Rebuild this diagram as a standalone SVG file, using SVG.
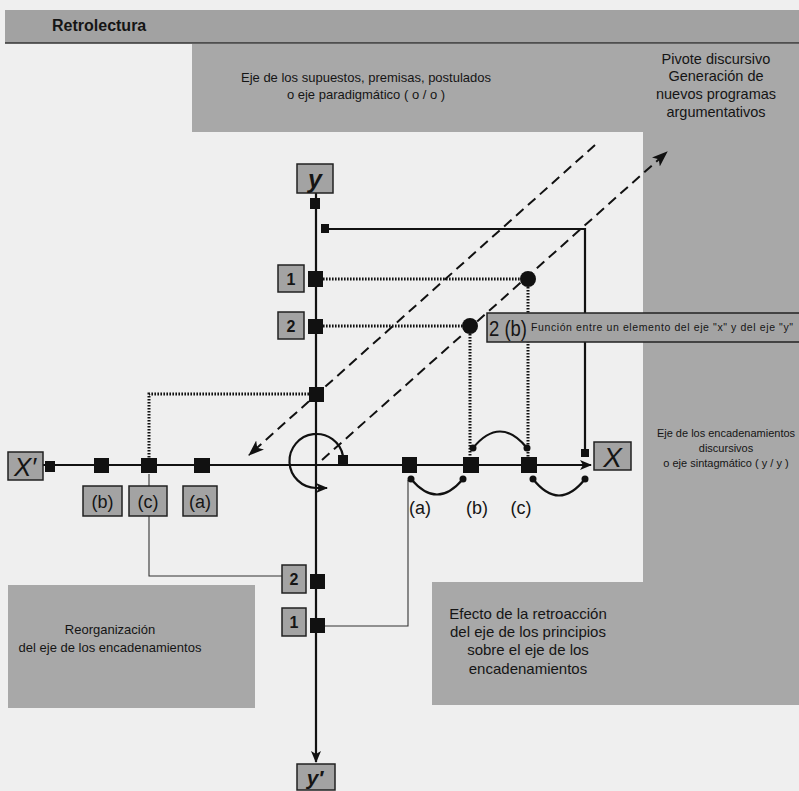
<svg xmlns="http://www.w3.org/2000/svg" width="799" height="791" viewBox="0 0 799 791">
<defs>
<style>
.bg{fill:#a8a8a8}
.lbl{fill:#a3a3a3;stroke:#222;stroke-width:1.5}
.sq{fill:#111}
.t{font-family:"Liberation Sans",Arial,sans-serif;fill:#151515}
.c{text-anchor:middle}
.ax{stroke:#111;stroke-width:2.2;fill:none}
.thin{stroke:#333;stroke-width:1.1;fill:none}
.dot{stroke:#111;stroke-width:3;stroke-dasharray:1.6 1.4;fill:none}
.dash{stroke:#111;stroke-width:2;stroke-dasharray:10 6;fill:none}
</style>
<marker id="ah" viewBox="0 0 12 10" refX="11" refY="5" markerWidth="12" markerHeight="10" markerUnits="userSpaceOnUse" orient="auto">
<path d="M0,0 L12,5 L0,10 L3,5 Z" fill="#111"/>
</marker>
<marker id="ahd" viewBox="0 0 16 12" refX="15" refY="6" markerWidth="16" markerHeight="12" markerUnits="userSpaceOnUse" orient="auto">
<path d="M0,0 L16,6 L0,12 L4,6 Z" fill="#111"/>
</marker>
</defs>
<rect width="799" height="791" fill="#efefef"/>
<g id="background">
<rect x="5" y="10" width="794" height="33" fill="#a2a2a2"/>
<line x1="5" y1="43" x2="799" y2="43" stroke="#333" stroke-width="1.5"/>
<rect class="bg" x="192" y="44" width="607" height="88"/>
<rect class="bg" x="643" y="132" width="156" height="573"/>
<rect class="bg" x="432" y="582" width="367" height="123"/>
<rect class="bg" x="8" y="585" width="247" height="123"/>
</g>
<g id="texts">
<text class="t" x="52" y="31" font-size="16" font-weight="bold">Retrolectura</text>
<text class="t c" x="366" y="82" font-size="13">Eje de los supuestos, premisas, postulados</text>
<text class="t c" x="366" y="99" font-size="13">o eje paradigmático ( o / o )</text>
<text class="t c" x="716" y="64" font-size="14.5">Pivote discursivo</text>
<text class="t c" x="716" y="81" font-size="14.5">Generación de</text>
<text class="t c" x="716" y="99" font-size="14.5">nuevos programas</text>
<text class="t c" x="716" y="117" font-size="14.5">argumentativos</text>
<text class="t c" x="726" y="437" font-size="11">Eje de los encadenamientos</text>
<text class="t c" x="726" y="452" font-size="11">discursivos</text>
<text class="t c" x="726" y="467" font-size="11">o eje sintagmático ( y / y )</text>
<text class="t c" x="110" y="634" font-size="13">Reorganización</text>
<text class="t c" x="110" y="652" font-size="13">del eje de los encadenamientos</text>
<text class="t c" x="528" y="619" font-size="15">Efecto de la retroacción</text>
<text class="t c" x="528" y="637" font-size="15">del eje de los principios</text>
<text class="t c" x="528" y="655" font-size="15">sobre el eje de los</text>
<text class="t c" x="528" y="674" font-size="15">encadenamientos</text>
</g>
<g id="connectors">
<line class="dash" x1="595" y1="145" x2="249" y2="455" marker-end="url(#ahd)"/>
<line class="dash" x1="322" y1="460" x2="667" y2="152" marker-end="url(#ahd)"/>
<line class="ax" x1="316" y1="193" x2="316" y2="762" marker-end="url(#ah)"/>
<line class="ax" x1="43" y1="465" x2="591" y2="465" marker-end="url(#ah)"/>
<polyline class="ax" stroke-width="2" points="329,229 585,229 585,449"/>
<line class="dot" x1="323" y1="279" x2="520" y2="279"/>
<line class="dot" x1="323" y1="326" x2="462" y2="326"/>
<line class="dot" x1="528" y1="287" x2="528" y2="457"/>
<line class="dot" x1="470" y1="334" x2="470" y2="457"/>
<polyline class="dot" points="309,394 149,394 149,458"/>
<polyline class="thin" points="149,474 149,576 282,576"/>
<polyline class="thin" points="324,626 408,626 408,480"/>
<path class="ax" d="M343 456 A27 27 0 1 0 316 488 L327 488" marker-end="url(#ah)"/>
<path class="ax" d="M473 448 Q500 415 527 448"/>
<path class="ax" d="M411 479 Q437 510 463 479"/>
<path class="ax" d="M533 479 Q559 512 585 479"/>
</g>
<g id="arc-dots" fill="#111">
<circle cx="473" cy="448" r="3.5"/><circle cx="527" cy="448" r="3.5"/>
<circle cx="411" cy="479" r="3.5"/><circle cx="463" cy="479" r="3.5"/>
<circle cx="533" cy="479" r="3.5"/><circle cx="585" cy="479" r="3.5"/>
</g>
<g id="node-y">
<rect class="lbl" x="297" y="164" width="36" height="29"/>
<text class="t c" x="315" y="188" font-size="25" font-weight="bold" font-style="italic">y</text>
<rect class="sq" x="310" y="198" width="10" height="11"/>
</g>
<g id="node-ytop-square"><rect class="sq" x="321" y="224" width="8" height="9"/></g>
<g id="node-y1">
<rect class="lbl" x="278" y="265" width="26" height="27"/>
<text class="t c" x="291" y="285" font-size="16" font-weight="bold">1</text>
<rect class="sq" x="308" y="271" width="15" height="16"/>
</g>
<g id="node-y2">
<rect class="lbl" x="278" y="312" width="26" height="27"/>
<text class="t c" x="291" y="332" font-size="16" font-weight="bold">2</text>
<rect class="sq" x="308" y="319" width="15" height="15"/>
</g>
<g id="node-y3"><rect class="sq" x="309" y="387" width="15" height="15"/></g>
<g id="circle1"><circle cx="528" cy="279" r="8" fill="#111"/></g>
<g id="circle2"><circle cx="470" cy="326" r="8" fill="#111"/></g>
<g id="node-2b">
<rect class="lbl" x="487" y="313" width="313" height="29"/>
<text class="t" x="489" y="336" font-size="22" textLength="38" lengthAdjust="spacingAndGlyphs">2 (b)</text>
<text class="t" x="531" y="331" font-size="10.5" textLength="262">Función entre un elemento del eje "x" y del eje "y"</text>
</g>
<g id="node-xprime">
<rect class="lbl" x="8" y="452" width="35" height="28"/>
<text class="t c" x="25" y="476" font-size="26" font-style="italic">X′</text>
<rect class="sq" x="45" y="461" width="10" height="11"/>
</g>
<g id="node-left-b"><rect class="sq" x="94" y="458" width="15" height="15"/>
<rect class="lbl" x="83" y="486" width="39" height="30"/>
<text class="t c" x="102.5" y="508" font-size="18">(b)</text></g>
<g id="node-left-c"><rect class="sq" x="141" y="458" width="16" height="15"/>
<rect class="lbl" x="129" y="486" width="38" height="30"/>
<text class="t c" x="148" y="508" font-size="18">(c)</text></g>
<g id="node-left-a"><rect class="sq" x="194" y="458" width="16" height="15"/>
<rect class="lbl" x="183" y="486" width="34" height="30"/>
<text class="t c" x="200" y="508" font-size="18">(a)</text></g>
<g id="node-origin-square"><rect class="sq" x="338" y="455" width="10" height="10"/></g>
<g id="node-a"><rect class="sq" x="402" y="457" width="15" height="16"/>
<text class="t c" x="420" y="514" font-size="18">(a)</text></g>
<g id="node-b"><rect class="sq" x="463" y="457" width="16" height="16"/>
<text class="t c" x="477" y="514" font-size="18">(b)</text></g>
<g id="node-c"><rect class="sq" x="521" y="457" width="16" height="16"/>
<text class="t c" x="521" y="514" font-size="18">(c)</text></g>
<g id="node-xend-square"><rect class="sq" x="581" y="449" width="8" height="8"/></g>
<g id="node-x">
<rect class="lbl" x="594" y="442" width="37" height="28"/>
<text class="t c" x="612.5" y="467" font-size="28" font-style="italic">X</text>
</g>
<g id="node-low2">
<rect class="lbl" x="282" y="565" width="24" height="28"/>
<text class="t c" x="294" y="585" font-size="16" font-weight="bold">2</text>
<rect class="sq" x="310" y="574" width="15" height="15"/>
</g>
<g id="node-low1">
<rect class="lbl" x="282" y="608" width="24" height="28"/>
<text class="t c" x="294" y="628" font-size="16" font-weight="bold">1</text>
<rect class="sq" x="310" y="618" width="15" height="15"/>
</g>
<g id="node-yprime">
<rect class="lbl" x="297" y="764" width="38" height="26"/>
<text class="t c" x="315" y="785" font-size="21" font-weight="bold" font-style="italic">y′</text>
</g>
</svg>
